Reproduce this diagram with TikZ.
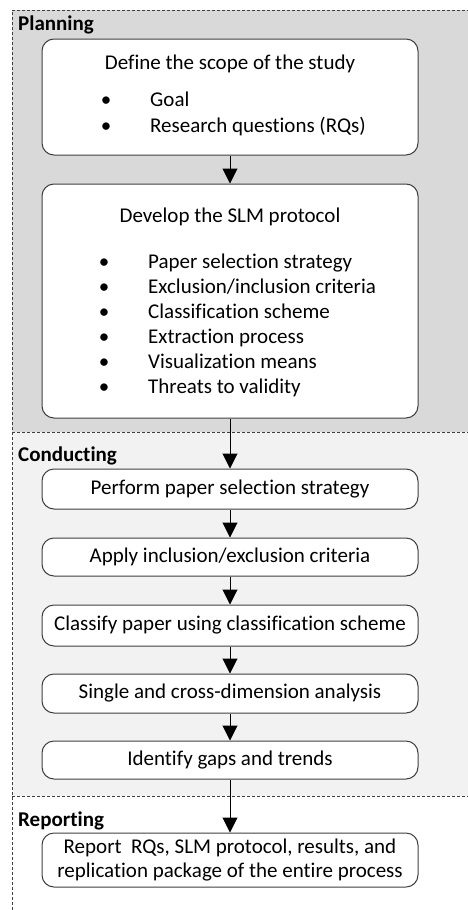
\documentclass[tikz,border=0pt]{standalone}
\usepackage{fontspec}
\setmainfont{Carlito}[Ligatures=CommonOff]
\usetikzlibrary{arrows.meta}
\definecolor{planfill}{HTML}{D9D9D9}
\definecolor{condfill}{HTML}{F2F2F2}
\definecolor{edgegray}{HTML}{3F3F3F}

\begin{document}
\begin{tikzpicture}[x=1pt,y=-1pt,
  every node/.style={font=\fontsize{21}{24}\selectfont, text=black},
  stepbox/.style={draw=edgegray, line width=1pt, fill=white, rounded corners=12pt,
    minimum width=376pt, inner sep=0pt, align=center},
  phase/.style={font=\fontsize{21}{24}\selectfont\bfseries, anchor=base west, inner sep=0pt},
  flow/.style={draw=black, line width=1pt, -{Triangle[width=15pt,length=15pt]}},
  sepline/.style={draw=edgegray, line width=0.8pt, dash pattern=on 3pt off 2pt},
  itemtext/.style={anchor=base west, inner sep=0pt},
  bullet/.style={anchor=base, inner sep=0pt},
  title/.style={anchor=base, inner sep=0pt},
  ]
\useasboundingbox (0,0) rectangle (468,910);

% phase bands with dashed frame
\begin{scope}
  \clip (0,0) rectangle (468,910);
  \fill[planfill] (12,10) rectangle (480,432);
  \fill[condfill] (12,432) rectangle (480,796);
  \fill[white] (12,796) rectangle (480,930);
  \draw[sepline] (480,10) -- (12,10) -- (12,930);
  \draw[sepline] (12,432) -- (480,432);
  \draw[sepline] (12,796) -- (480,796);
\end{scope}

% phase names
\node[phase] (planning) at (18,30.5) {Planning};
\node[phase] (conducting) at (18,461.5) {Conducting};
\node[phase] (reporting) at (18,826) {Reporting};

% planning steps
\node[stepbox, minimum height=116pt] (scope) at (230,97) {};
\node[title] (scopetitle) at (230,69) {Define the scope of the study};
\node[bullet] (b11) at (106,106.5) {•};
\node[itemtext] (goal) at (150,106.5) {Goal};
\node[bullet] (b12) at (106,132.5) {•};
\node[itemtext] (rqs) at (150,132.5) {Research questions (RQs)};

\node[stepbox, minimum height=234pt] (protocol) at (230,301) {};
\node[title] (prottitle) at (230,222.5) {Develop the SLM protocol};
\foreach \y/\t [count=\i] in {268/{Paper selection strategy},
    293/{Exclusion/inclusion criteria},
    318/{Classification scheme},
    343/{Extraction process},
    368/{Visualization means},
    393/{Threats to validity}}{
  \node[bullet] (b2\i) at (104,\y) {•};
  \node[itemtext] (p2\i) at (148,\y) {\t};
}

% conducting steps
\node[stepbox, minimum height=40pt] (select) at (230,489) {Perform paper selection strategy};
\node[stepbox, minimum height=38pt] (criteria) at (230,557) {Apply inclusion/exclusion criteria};
\node[stepbox, minimum height=41pt] (classify) at (230,625.5) {Classify paper using classification scheme};
\node[stepbox, minimum height=39pt] (analysis) at (230,693.5) {Single and cross-dimension analysis};
\node[stepbox, minimum height=38pt] (gaps) at (230,760) {Identify gaps and trends};

% reporting step
\node[stepbox, minimum height=54pt] (report) at (230,860)
  {Report\ \ RQs, SLM protocol, results, and\\replication package of the entire process};

% flow
\draw[flow] (scope) -- (protocol);
\draw[flow] (protocol) -- (select);
\draw[flow] (select) -- (criteria);
\draw[flow] (criteria) -- (classify);
\draw[flow] (classify) -- (analysis);
\draw[flow] (analysis) -- (gaps);
\draw[flow] (gaps) -- (report);
\end{tikzpicture}
\end{document}
